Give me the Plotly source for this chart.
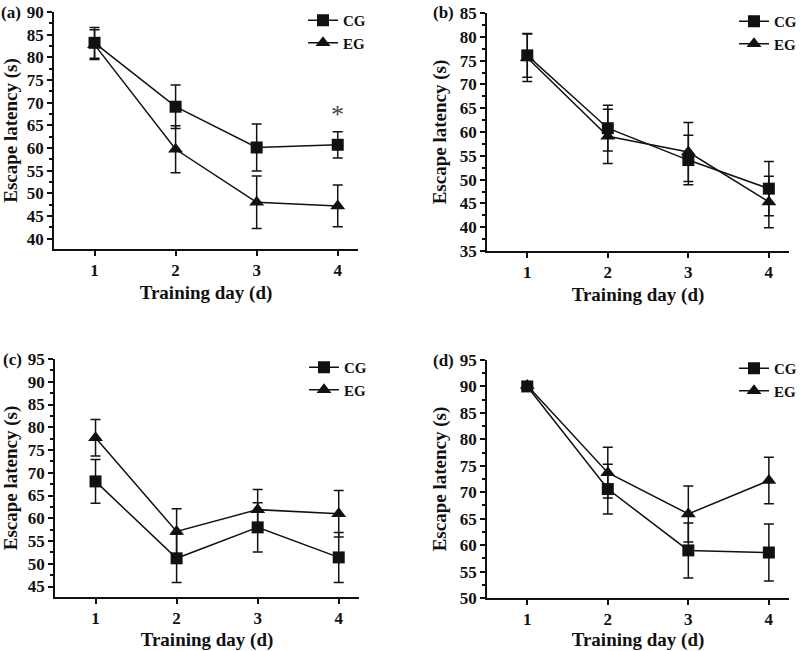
import plotly.graph_objects as go

# dias de entrenamiento
days = [1, 2, 3, 4]

# (a)
a_cg = [83.2, 69.1, 60.1, 60.7]
a_cg_sd = [3.4, 4.8, 5.2, 2.9]
a_eg = [82.8, 59.7, 48.0, 47.2]
a_eg_sd = [3.3, 5.2, 5.8, 4.6]
# (b)
b_cg = [76.1, 60.8, 54.1, 48.1]
b_cg_sd = [4.6, 4.8, 5.2, 5.7]
b_eg = [75.6, 59.1, 55.8, 45.3]
b_eg_sd = [5.0, 5.7, 6.2, 5.4]
# (c)
c_cg = [68.1, 51.2, 58.0, 51.4]
c_cg_sd = [4.8, 5.3, 5.4, 5.5]
c_eg = [77.7, 57.1, 61.9, 61.0]
c_eg_sd = [4.0, 5.0, 4.4, 5.1]
# (d)
d_cg = [90.0, 70.6, 59.0, 58.6]
d_cg_sd = [0.5, 4.7, 5.2, 5.4]
d_eg = [90.2, 73.7, 65.9, 72.2]
d_eg_sd = [0.6, 4.8, 5.3, 4.4]

panels = ["(a)", "(b)", "(c)", "(d)"]
y_ranges = [[37.7, 90], [35, 85], [42.7, 95], [50, 95]]
series = [(a_cg, a_cg_sd, a_eg, a_eg_sd), (b_cg, b_cg_sd, b_eg, b_eg_sd),
          (c_cg, c_cg_sd, c_eg, c_eg_sd), (d_cg, d_cg_sd, d_eg, d_eg_sd)]

W, H = 800, 651
FONT = "Liberation Serif, Times New Roman, serif"
INK = "#111111"

# cajas de cada panel en pixeles (izq, der, arriba, abajo)
boxes = [(54, 358, 12, 249), (487, 789, 13, 251), (55, 359, 359, 597), (487, 789, 360, 598)]

fig = go.Figure()

for i, (cg, cg_sd, eg, eg_sd) in enumerate(series):
    n = "" if i == 0 else str(i + 1)
    leg = "legend" + n
    for name, y, sd, sym in [("CG", cg, cg_sd, "square"), ("EG", eg, eg_sd, "triangle-up")]:
        fig.add_trace(go.Scatter(
            x=days, y=y, name=name, mode="lines+markers",
            xaxis="x" + n, yaxis="y" + n, legend=leg,
            line=dict(color=INK, width=1.5),
            marker=dict(symbol=sym, size=12 if sym == "square" else 13, color=INK),
            error_y=dict(type="data", array=sd, visible=True, color=INK, thickness=1.5, width=5),
        ))

layout = dict(width=W, height=H, margin=dict(l=0, r=0, t=0, b=0, autoexpand=False),
              paper_bgcolor="white", plot_bgcolor="white",
              font=dict(family=FONT, color=INK), annotations=[])

for i, (l, r, t, b) in enumerate(boxes):
    n = "" if i == 0 else str(i + 1)
    xdom = [l / W, r / W]
    ydom = [1 - b / H, 1 - t / H]
    layout["xaxis" + n] = dict(
        domain=xdom, anchor="y" + n, range=[0.5, 4.25],
        tickvals=days, ticks="outside", ticklen=5, tickwidth=1.5, tickcolor=INK,
        showline=True, linewidth=1.8, linecolor=INK, showgrid=False, zeroline=False,
        tickfont=dict(size=17, weight="bold"),
        title=dict(text="Training day (d)", font=dict(size=19, weight="bold"), standoff=6),
    )
    layout["yaxis" + n] = dict(
        domain=ydom, anchor="x" + n, range=y_ranges[i], dtick=5,
        ticks="outside", ticklen=5, tickwidth=1.5, tickcolor=INK,
        minor=dict(dtick=2.5, ticks="outside", ticklen=3, tickwidth=1.5, tickcolor=INK),
        showline=True, linewidth=1.8, linecolor=INK, showgrid=False, zeroline=False,
        tickfont=dict(size=17, weight="bold"),
        title=dict(text="Escape latency (s)", font=dict(size=19, weight="bold"), standoff=8),
    )
    layout["legend" + n] = dict(
        x=(r - 55) / W, y=1 - (t - 8) / H, xanchor="left", yanchor="top",
        bgcolor="rgba(0,0,0,0)", font=dict(size=15, weight="bold"),
        tracegroupgap=0, itemwidth=30,
    )
    layout["annotations"].append(dict(
        text=panels[i], xref="paper", yref="paper", x=(l - 31) / W, y=1 - t / H,
        xanchor="right", yanchor="middle", showarrow=False,
        font=dict(size=17, weight="bold"),
    ))

# asterisco de significancia en (a)
layout["annotations"].append(dict(
    text="*", xref="x", yref="y", x=4, y=67.3, showarrow=False,
    font=dict(size=26, color="#444444"),
))

fig.update_layout(**layout)
# sin el margen por defecto del body y sin barra de herramientas
fig.write_html("out.html", config={"displayModeBar": False},
               post_script="document.body.style.margin='0';")
